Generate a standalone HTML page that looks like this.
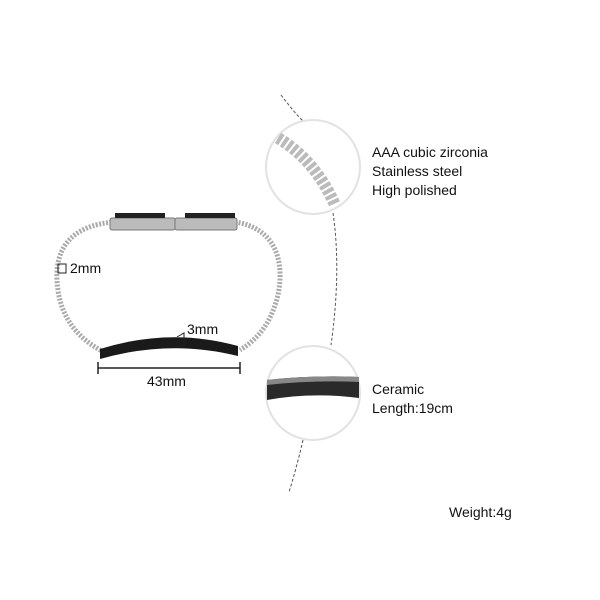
<!DOCTYPE html>
<html><head><style>
body{margin:0;background:#fff;}
svg{display:block;}
text{font-family:"Liberation Sans",sans-serif;fill:#111;}
</style></head><body>
<svg width="600" height="600" viewBox="0 0 600 600">
<path d="M281,95 Q300,120 308,125" stroke="#555" stroke-width="1" stroke-dasharray="3,2" fill="none"/>
<path d="M333,213 C340,260 336,310 331,345" stroke="#555" stroke-width="1" stroke-dasharray="3,2" fill="none"/>
<path d="M303,440 Q296,470 289,492" stroke="#555" stroke-width="1" stroke-dasharray="3,2" fill="none"/>
<path d="M115,222 C70,225 52,250 58,290 C62,320 80,340 104,352" stroke="#aaa" stroke-width="5" fill="none" stroke-dasharray="2,1.5"/>
<path d="M235,222 C275,228 285,260 278,295 C272,320 260,338 240,350" stroke="#aaa" stroke-width="5" fill="none" stroke-dasharray="2,1.5"/>
<rect x="110" y="218" width="65" height="12" rx="2" fill="#bbb" stroke="#777"/>
<rect x="175" y="218" width="62" height="12" rx="2" fill="#bbb" stroke="#777"/>
<rect x="115" y="213" width="50" height="5" fill="#222"/>
<rect x="185" y="213" width="50" height="5" fill="#222"/>
<path d="M100,349 Q170,327 238,346 L238,356 Q170,339 100,359 Z" fill="#1a1a1a"/>
<line x1="98" y1="368" x2="240" y2="368" stroke="#222" stroke-width="1.5"/>
<line x1="98" y1="362" x2="98" y2="374" stroke="#222" stroke-width="1.5"/>
<line x1="240" y1="362" x2="240" y2="374" stroke="#222" stroke-width="1.5"/>
<text x="147" y="386" font-size="14">43mm</text>
<text x="187" y="334" font-size="14">3mm</text>
<path d="M177,337 L184,333 L184,345 L176,347" stroke="#222" fill="none"/>
<rect x="58" y="264" width="8" height="9" fill="none" stroke="#222"/>
<text x="70" y="273" font-size="14">2mm</text>
<circle cx="313" cy="167" r="47" fill="#fff" stroke="#e2e2e2" stroke-width="2"/>
<path d="M278,138 Q315,160 335,205" stroke="#bbb" stroke-width="12" fill="none" stroke-dasharray="4,2"/>
<circle cx="313" cy="393" r="47" fill="#fff" stroke="#e2e2e2" stroke-width="2"/>
<path d="M267,380 Q312,375 359,377 L359,398 Q312,392 267,400 Z" fill="#2a2a2a"/>
<path d="M267,380 Q312,375 359,377 L359,382 Q312,380 267,385 Z" fill="#888"/>
<text x="372" y="157" font-size="14">AAA cubic zirconia</text>
<text x="372" y="176" font-size="14">Stainless steel</text>
<text x="372" y="195" font-size="14">High polished</text>
<text x="372" y="394" font-size="14">Ceramic</text>
<text x="372" y="413" font-size="14">Length:19cm</text>
<text x="449" y="517" font-size="14">Weight:4g</text>
</svg>
</body></html>
